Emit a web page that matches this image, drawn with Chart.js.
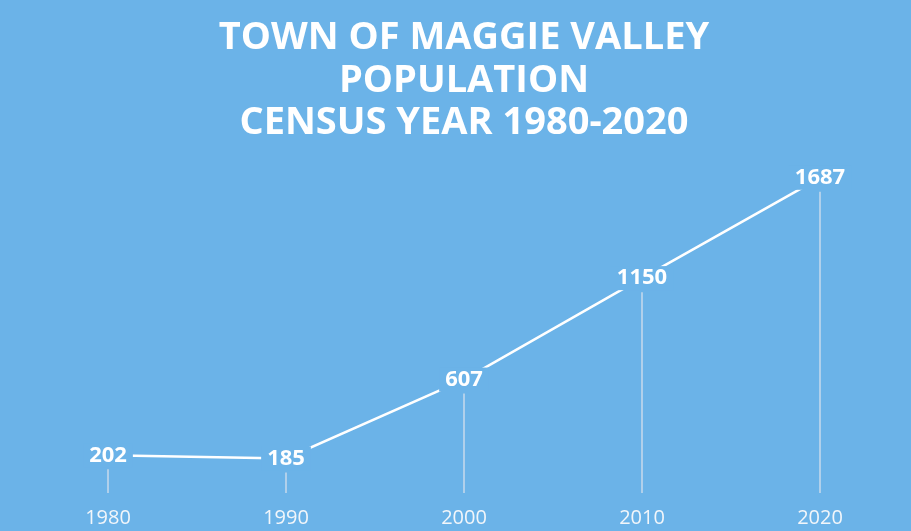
<!DOCTYPE html>
<html>
<head>
<meta charset="utf-8">
<script src="https://cdn.jsdelivr.net/npm/chart.js@4"></script>
<style>
  html, body { margin: 0; padding: 0; background: #6bb3e8; }
  #wrap { width: 911px; height: 531px; }
</style>
</head>
<body>
<div id="wrap"><canvas id="line-chart"></canvas></div>
<script>
// census years and population
const years = ['1980', '1990', '2000', '2010', '2020'];
const population = [202, 185, 607, 1150, 1687];
const titleLines = ['TOWN OF MAGGIE VALLEY', 'POPULATION', 'CENSUS YEAR 1980-2020'];

const bgColor = '#6bb3e8';

// background, drop lines and value labels
const decor = {
  id: 'decor',
  beforeDraw(chart) {
    const ctx = chart.ctx;
    ctx.save();
    ctx.fillStyle = bgColor;
    ctx.fillRect(0, 0, chart.width, chart.height);
    ctx.restore();
  },
  beforeDatasetsDraw(chart) {
    const ctx = chart.ctx;
    const meta = chart.getDatasetMeta(0);
    const bottom = chart.chartArea.bottom;
    ctx.save();
    ctx.strokeStyle = 'rgba(215,225,235,0.85)';
    ctx.lineWidth = 1.5;
    meta.data.forEach(function(pt) {
      ctx.beginPath();
      ctx.moveTo(pt.x, pt.y + 14);
      ctx.lineTo(pt.x, bottom);
      ctx.stroke();
    });
    ctx.restore();
  },
  afterDatasetsDraw(chart) {
    const ctx = chart.ctx;
    const meta = chart.getDatasetMeta(0);
    ctx.save();
    ctx.font = 'bold 22px "Open Sans"';
    ctx.textAlign = 'center';
    ctx.textBaseline = 'middle';
    meta.data.forEach(function(pt, i) {
      const txt = String(population[i]);
      const w = ctx.measureText(txt).width;
      ctx.fillStyle = bgColor;
      ctx.fillRect(pt.x - w / 2 - 6, pt.y - 12, w + 12, 24);
      ctx.fillStyle = '#ffffff';
      ctx.fillText(txt, pt.x, pt.y);
    });
    ctx.restore();
  }
};

const data = {
  labels: years,
  datasets: [{
    label: 'Population',
    data: population,
    borderColor: '#ffffff',
    borderWidth: 2.5,
    pointRadius: 0,
    tension: 0
  }]
};

const config = {
  type: 'line',
  data: data,
  plugins: [decor],
  options: {
    responsive: true,
    maintainAspectRatio: false,
    animation: false,
    layout: { padding: { left: 108, right: 91, top: 0, bottom: 0 } },
    plugins: {
      legend: { display: false },
      tooltip: { enabled: false },
      title: {
        display: true,
        text: titleLines,
        color: '#ffffff',
        font: { family: 'Open Sans', size: 38, weight: 'bold', lineHeight: 1.12 },
        padding: { top: 17, bottom: 12 }
      }
    },
    scales: {
      x: {
        offset: false,
        grid: { display: false, drawTicks: false },
        border: { display: false },
        ticks: {
          color: '#f2f6fa',
          font: { family: 'Open Sans', size: 20 },
          padding: 13
        },
        afterFit(scale) { scale.height = 38; }
      },
      y: {
        display: false,
        min: 0,
        max: 1800
      }
    }
  }
};

const ctx = document.getElementById('line-chart').getContext('2d');
new Chart(ctx, config);
</script>
</body>
</html>
